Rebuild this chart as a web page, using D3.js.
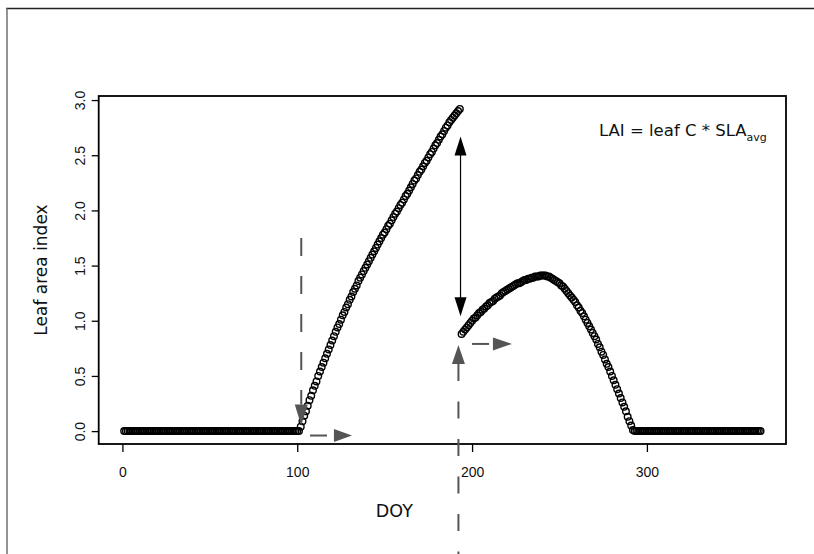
<!DOCTYPE html>
<html>
<head>
<meta charset="utf-8">
<script src="https://cdn.jsdelivr.net/npm/d3@7"></script>
<style>
    html, body { margin: 0; background: #fff; overflow: hidden; }
    svg { display: block; }
    text { font-family: "DejaVu Sans", sans-serif; }
</style>
</head>
<body>
<div id="chart"></div>
<script>
// LAI by day of year
const firstDoy = 1;

// days 1-101, no leaves
const laiDormantSpring = [
    0,0,0,0,0,0,0,0,0,0,0,0,0,0,0,0,0,0,0,0,
    0,0,0,0,0,0,0,0,0,0,0,0,0,0,0,0,0,0,0,0,
    0,0,0,0,0,0,0,0,0,0,0,0,0,0,0,0,0,0,0,0,
    0,0,0,0,0,0,0,0,0,0,0,0,0,0,0,0,0,0,0,0,
    0,0,0,0,0,0,0,0,0,0,0,0,0,0,0,0,0,0,0,0,
    0
];

// days 102-193, leaf out
const laiLeafOut = [
    0.04,0.09,0.14,0.18,0.23,0.28,0.32,0.37,
    0.41,0.45,0.50,0.54,0.58,0.62,0.66,0.70,0.74,0.78,0.82,0.86,0.90,0.94,0.97,1.01,1.05,1.08,1.12,
    1.15,1.19,1.22,1.26,1.29,1.32,1.36,1.39,1.42,1.45,1.48,1.51,1.54,1.57,1.60,1.63,1.66,1.69,1.72,
    1.75,1.78,1.80,1.83,1.86,1.88,1.91,1.94,1.97,1.99,2.02,2.05,2.07,2.10,2.13,2.15,2.18,2.21,2.24,
    2.27,2.29,2.32,2.35,2.37,2.40,2.43,2.45,2.48,2.51,2.53,2.56,2.59,2.61,2.64,2.67,2.69,2.72,2.75,
    2.77,2.80,2.82,2.84,2.86,2.88,2.90,2.92
];

// days 194-292, after the switch to average SLA
const laiSummer = [
    0.88,0.90,0.92,0.94,0.96,0.98,1.00,
    1.02,1.03,1.05,1.07,1.08,1.10,1.11,1.13,1.14,1.16,
    1.17,1.18,1.20,1.21,1.22,1.23,1.25,1.26,1.27,1.28,
    1.29,1.30,1.31,1.32,1.33,1.34,1.34,1.35,1.36,1.37,
    1.37,1.38,1.38,1.39,1.39,1.40,1.40,1.40,1.41,1.41,
    1.41,1.41,1.40,1.40,1.39,1.38,1.37,1.36,1.35,1.34,
    1.32,1.31,1.29,1.27,1.25,1.23,1.21,1.19,1.17,1.14,
    1.12,1.09,1.07,1.04,1.01,0.98,0.95,0.92,0.89,0.86,
    0.83,0.79,0.76,0.72,0.69,0.65,0.61,0.58,0.54,0.50,
    0.46,0.42,0.38,0.34,0.30,0.26,0.22,0.18,0.13,0.09,
    0.05,0.01
];

// days 293-365, leaves dropped
const laiDormantFall = [
    0,0,0,0,0,0,0,0,0,0,0,0,0,0,0,0,0,0,0,0,
    0,0,0,0,0,0,0,0,0,0,0,0,0,0,0,0,0,0,0,0,
    0,0,0,0,0,0,0,0,0,0,0,0,0,0,0,0,0,0,0,0,
    0,0,0,0,0,0,0,0,0,0,0,0,0
];

const xTicks = [0, 100, 200, 300];
const yTicks = [0, 0.5, 1.0, 1.5, 2.0, 2.5, 3.0];

const lai = [].concat(laiDormantSpring, laiLeafOut, laiSummer, laiDormantFall);
const data = lai.map((v, i) => ({ doy: firstDoy + i, lai: v }));

const W = 814, H = 554;
const box = { left: 98.7, right: 786, top: 96, bottom: 444 };
const grey = "#555";

const svg = d3.select("#chart").append("svg")
    .attr("width", W)
    .attr("height", H);

// R style 4% padding on both axes
const xExt = d3.extent(data, (d) => d.doy);
const yExt = d3.extent(data, (d) => d.lai);
const xPad = (xExt[1] - xExt[0]) * 0.04;
const yPad = (yExt[1] - yExt[0]) * 0.04;

const x = d3.scaleLinear().domain([xExt[0] - xPad, xExt[1] + xPad]).range([box.left, box.right]);
const y = d3.scaleLinear().domain([yExt[0] - yPad, yExt[1] + yPad]).range([box.bottom, box.top]);

// outer frame (top and left edges only visible)
svg.append("line").attr("x1", 6).attr("x2", W).attr("y1", 8.5).attr("y2", 8.5)
    .attr("stroke", "#222").attr("stroke-width", 1.6);
svg.append("line").attr("x1", 7).attr("x2", 7).attr("y1", 8).attr("y2", H)
    .attr("stroke", "#666").attr("stroke-width", 1.4);

// axes
const xAxis = svg.append("g")
    .attr("transform", "translate(0," + box.bottom + ")")
    .call(d3.axisBottom(x).tickValues(xTicks).tickSize(8).tickPadding(15).tickFormat(d3.format("d")));
const yAxis = svg.append("g")
    .attr("transform", "translate(" + box.left + ",0)")
    .call(d3.axisLeft(y).tickValues(yTicks).tickSize(7).tickFormat(d3.format(".1f")));

[xAxis, yAxis].forEach((g) => {
    g.select(".domain").remove();
    g.attr("font-size", null).attr("font-family", null);
    g.selectAll(".tick line").attr("stroke", "#000").attr("stroke-width", 1.3);
    g.selectAll(".tick text")
        .attr("fill", "#111")
        .style("font-family", "'Liberation Sans Narrow', 'Liberation Sans', sans-serif")
        .style("font-size", "14px");
});

yAxis.selectAll(".tick text")
    .attr("x", null).attr("dy", null)
    .attr("text-anchor", "middle")
    .attr("transform", "translate(-13.5,0) rotate(-90)");

// plot box
svg.append("rect")
    .attr("x", box.left).attr("y", box.top)
    .attr("width", box.right - box.left).attr("height", box.bottom - box.top)
    .attr("fill", "none").attr("stroke", "#000").attr("stroke-width", 1.8);

// points
svg.append("g").selectAll("circle")
    .data(data)
    .enter()
    .append("circle")
    .attr("cx", (d) => x(d.doy))
    .attr("cy", (d) => y(d.lai))
    .attr("r", 3.3)
    .attr("fill", "none")
    .attr("stroke", "#000")
    .attr("stroke-width", 1.4);

// arrow heads
const head = (tipX, tipY, dir, len, wid, color) => {
    let pts;
    if (dir === "down") pts = [[tipX, tipY], [tipX - wid / 2, tipY - len], [tipX + wid / 2, tipY - len]];
    if (dir === "up") pts = [[tipX, tipY], [tipX - wid / 2, tipY + len], [tipX + wid / 2, tipY + len]];
    if (dir === "right") pts = [[tipX, tipY], [tipX - len, tipY - wid / 2], [tipX - len, tipY + wid / 2]];
    svg.append("polygon").attr("points", pts.map((p) => p.join(",")).join(" ")).attr("fill", color);
};

const dashed = (x1, y1, x2, y2, dash) => {
    svg.append("line")
        .attr("x1", x1).attr("y1", y1).attr("x2", x2).attr("y2", y2)
        .attr("stroke", grey).attr("stroke-width", 2)
        .attr("stroke-dasharray", dash);
};

// leaf out marker
const onX = x(102.3);
dashed(onX, y(1.75), onX, y(0.05) - 21, "18,20");
head(onX, y(0.05), "down", 21, 13, grey);
dashed(x(107.3), y(-0.04), x(131.3) - 18, y(-0.04), "17,40");
head(x(131.3), y(-0.04), "right", 18, 13, grey);

// switch marker
const swX = x(192.2);
dashed(swX, y(0.78) + 19, swX, H + 20, "17,20.5");
head(swX, y(0.78), "up", 19, 13, grey);
dashed(x(200), y(0.79), x(222.8) - 19, y(0.79), "17,40");
head(x(222.8), y(0.79), "right", 19, 13, grey);

// drop in LAI
const dropX = x(193.4);
svg.append("line")
    .attr("x1", dropX).attr("x2", dropX)
    .attr("y1", y(2.67) + 18).attr("y2", y(1.04) - 18)
    .attr("stroke", "#000").attr("stroke-width", 1.2);
head(dropX, y(2.67), "up", 19, 12, "#000");
head(dropX, y(1.04), "down", 19, 12, "#000");

// formula
const eq = svg.append("text")
    .attr("x", 599).attr("y", 136)
    .style("font-size", "16.5px")
    .attr("fill", "#111");
eq.append("tspan").text("LAI = leaf C * SLA");
eq.append("tspan").attr("dy", 5).style("font-size", "11px").text("avg");

// axis titles
svg.append("text")
    .attr("x", (box.left + box.right) / 2 - 48).attr("y", 517)
    .attr("text-anchor", "middle")
    .style("font-size", "17.5px")
    .attr("fill", "#111")
    .text("DOY");

svg.append("text")
    .attr("transform", "translate(47," + (box.top + box.bottom) / 2 + ") rotate(-90)")
    .attr("text-anchor", "middle")
    .style("font-size", "17px")
    .attr("fill", "#111")
    .text("Leaf area index");
</script>
</body>
</html>
